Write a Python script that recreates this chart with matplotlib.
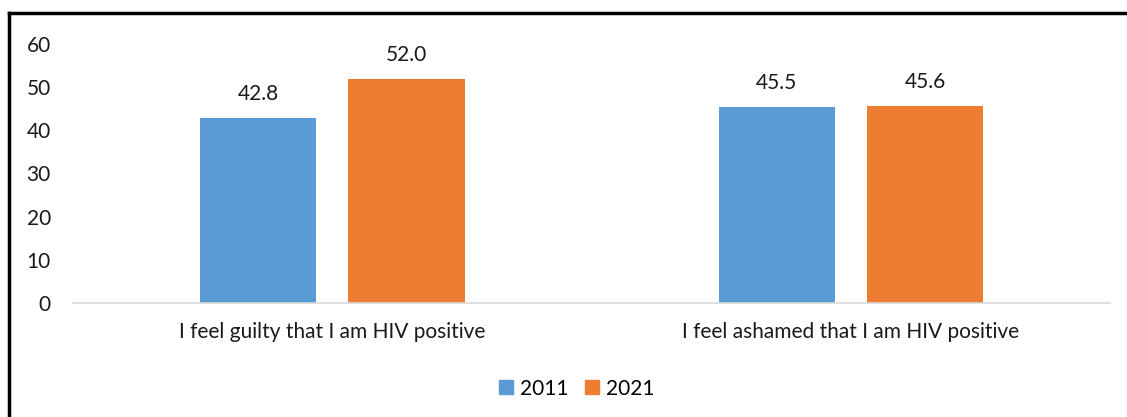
import matplotlib
matplotlib.use("Agg")
import matplotlib.pyplot as plt
from matplotlib.lines import Line2D
from matplotlib.patches import Patch
import numpy as np

categories = ["I feel guilty that I am HIV positive", "I feel ashamed that I am HIV positive"]
years = ["2011", "2021"]
values_2011 = [42.8, 45.5]
values_2021 = [52.0, 45.6]
yticks = [0, 10, 20, 30, 40, 50, 60]

blue = "#5B9BD5"
orange = "#ED7D31"
text_color = "#1a1a1a"
fs = 15

plt.rcParams["font.family"] = ["Lato", "DejaVu Sans"]

fig = plt.figure(figsize=(11.27, 4.17), dpi=100)
ax = fig.add_axes([0.0648, 0.2734, 0.9202, 0.6211])

x = np.arange(len(categories))
w = 0.224
off = 0.143
b1 = ax.bar(x - off, values_2011, w, color=blue)
b2 = ax.bar(x + off, values_2021, w, color=orange)

for bars, vals in ((b1, values_2011), (b2, values_2021)):
    for rect, v in zip(bars, vals):
        ax.annotate(f"{v:.1f}", (rect.get_x() + rect.get_width() / 2, v),
                    xytext=(0, 10), textcoords="offset points",
                    ha="center", va="bottom", fontsize=fs, color=text_color)

ax.set_xlim(-0.5, 1.5)
ax.set_ylim(0, 60)
ax.set_yticks(yticks)
ax.set_yticklabels([str(t) for t in yticks], fontsize=fs, color=text_color)
ax.set_xticks(x)
ax.set_xticklabels(categories, fontsize=fs, color=text_color)
ax.tick_params(axis="both", length=0)
ax.tick_params(axis="y", pad=16)
ax.tick_params(axis="x", pad=14)
for s in ("top", "right", "left"):
    ax.spines[s].set_visible(False)
ax.spines["bottom"].set_color("#D9D9D9")
ax.spines["bottom"].set_linewidth(1.2)

handles = [Patch(color=blue), Patch(color=orange)]
fig.legend(handles, years, loc="center", bbox_to_anchor=(0.512, 0.068), ncol=2,
           frameon=False, fontsize=fs, handlelength=0.65, handleheight=0.65,
           handletextpad=0.35, columnspacing=0.8)

# frame edges along the left and top of the figure
fig.add_artist(Line2D([0.0084, 0.0084], [0, 0.969], color="black", lw=2.5,
                      transform=fig.transFigure))
fig.add_artist(Line2D([0.0084, 1.0], [0.969, 0.969], color="black", lw=2.5,
                      transform=fig.transFigure))

fig.savefig("out.png", dpi=100)
